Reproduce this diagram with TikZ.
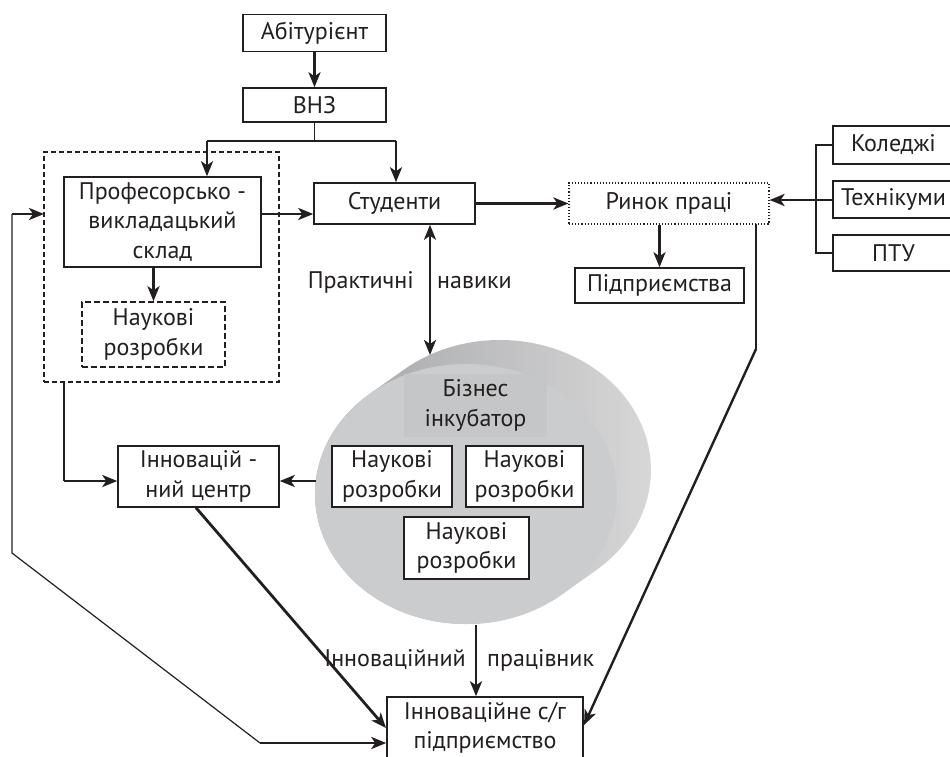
\documentclass[tikz,border=0pt]{standalone}
\usepackage{fontspec}
\setmainfont{PT Sans}
\usetikzlibrary{arrows.meta}
\definecolor{ink}{HTML}{231F20}
\definecolor{face}{HTML}{CBCCCD}
\definecolor{labelbg}{HTML}{C5C6C7}
\definecolor{sidedark}{HTML}{A0A1A3}
\definecolor{sidelight}{HTML}{DADADB}
\begin{document}
\begin{tikzpicture}[x=1pt,y=-1pt,
  font=\fontsize{24}{29.5}\selectfont,
  tip/.style={-{Stealth[length=15pt,width=12pt,inset=4pt]}},
  box/.style={draw=ink, line width=1.5pt, fill=white, inner sep=0pt, align=center, text=ink},
  plainbox/.style={inner sep=0pt, align=center, text=ink},
  arr/.style={draw=ink, line width=2.8pt, tip},
  dblarr/.style={draw=ink, line width=2.8pt, {Stealth[length=15pt,width=12pt,inset=4pt]}-{Stealth[length=15pt,width=12pt,inset=4pt]}},
  thinl/.style={draw=ink, line width=1.2pt},
  lbl/.style={inner sep=0pt, text=ink}]
\clip (0,0) rectangle (950,757);
\fill[white] (0,0) rectangle (950,757);

% incubator body
\shade[left color=sidedark, right color=sidelight]
  (404.3,369.4) arc[start angle=129.3, end angle=-50.7, x radius=151pt, y radius=130pt]
  -- (561.7,594.6) arc[start angle=-50.7, end angle=-230.7, x radius=151pt, y radius=130pt] -- cycle;
\fill[face] (466,494) ellipse[x radius=151pt, y radius=130pt];
\node[plainbox, fill=labelbg, minimum width=143pt, minimum height=63pt] (biz) at (475.5,405.5) {Бізнес\\інкубатор};
\node[box, minimum width=120pt, minimum height=61pt] (nrA) at (392,476.5) {Наукові\\розробки};
\node[box, minimum width=117pt, minimum height=61pt] (nrB) at (524.5,476.5) {Наукові\\розробки};
\node[box, minimum width=125pt, minimum height=62pt] (nrC) at (466.5,548) {Наукові\\розробки};
\coordinate (incL) at (316,481);
\coordinate (incT) at (430,355);
\coordinate (incB) at (476,625);

% boxes
\node[box, minimum width=143pt, minimum height=37pt] (abit) at (314.5,33) {Абітурієнт};
\node[box, minimum width=143pt, minimum height=34pt] (vnz) at (314.5,105) {ВНЗ};
\node[draw=ink, line width=1.1pt, dash pattern=on 5pt off 3pt, inner sep=0pt, minimum width=235pt, minimum height=230pt] (pvs) at (161.5,267) {};
\node[box, minimum width=197pt, minimum height=90pt] (prof) at (162.5,222) {Професорсько -\\викладацький\\склад};
\node[box, dash pattern=on 6pt off 3pt, minimum width=143pt, minimum height=65pt] (nr1) at (153.5,334.5) {Наукові\\розробки};
\node[box, minimum width=161pt, minimum height=41pt] (stud) at (394.5,203.5) {Студенти};
\node[box, line width=1.1pt, dotted, minimum width=200pt, minimum height=41pt] (rynok) at (669,203.5) {Ринок праці};
\node[box, minimum width=169pt, minimum height=35pt] (pidpr) at (659.5,285.5) {Підприємства};
\node[box, minimum width=121pt, minimum height=38pt] (koled) at (893.5,145) {Коледжі};
\node[box, minimum width=121pt, minimum height=37pt] (tekh) at (893.5,199.5) {Технікуми};
\node[box, minimum width=121pt, minimum height=36pt] (ptu) at (893.5,253) {ПТУ};
\node[box, minimum width=161pt, minimum height=61pt] (centr) at (198.5,476.5) {Інновацій -\\ний центр};
\node[box, minimum width=196pt, minimum height=62pt] (innov) at (485,728) {Інноваційне с/г\\підприємство};

% helper coordinates
\coordinate (vnzJ) at (314.5,141);
\coordinate (jL) at (207,141);
\coordinate (jR) at (396,141);
\coordinate (profIn) at (44,214);
\coordinate (loopA) at (12,214);
\coordinate (loopB) at (12,553);
\coordinate (loopC) at (260,743);
\coordinate (pvsOut) at (64,382);
\coordinate (pvsTurn) at (64,481);
\coordinate (rynOut) at (756,224);
\coordinate (rynTurn) at (756,349);
\coordinate (brkT) at (816,145);
\coordinate (brkB) at (816,253);
\coordinate (brkM) at (816,200);

% connectors
\draw[arr] (abit) -- (vnz);
\draw[thinl] (vnz.south) -- (vnzJ);
\draw[line width=2.2pt, draw=ink] (jL) -- (jR);
\draw[arr] (jL) -- (jL |- prof.north);
\draw[arr] (jR) -- (jR |- stud.north);
\draw[arr] (prof.east |- profIn) -- (stud.west |- profIn);
\draw[arr] (prof.south -| nr1.north) -- (nr1.north);
\draw[arr] (stud.east |- rynok.west) -- (rynok.west);
\draw[arr] (rynok.south -| pidpr.north) -- (pidpr.north);
\draw[dblarr] (stud.south -| incT) -- (incT);
\node[lbl, anchor=east] (lp1) at (414,282) {Практичні};
\node[lbl, anchor=west] (lp2) at (437,282) {навики};

% bracket of colleges
\draw[thinl] (koled.west |- brkT) -- (brkT) -- (brkB) -- (ptu.west |- brkB);
\draw[arr] (tekh.west |- brkM) -- (rynok.east |- brkM);

% left loop
\draw[thinl] (loopA) -- (loopB) -- (loopC);
\draw[arr] (loopA) -- (profIn);
\draw[arr] (loopC) -- (innov.west |- loopC);

% from dashed group to innovation centre
\draw[thinl] (pvsOut) -- (pvsTurn);
\draw[arr] (pvsTurn) -- (centr.west |- pvsTurn);
\draw[arr] (incL) -- (centr.east |- incL);

% to the enterprise
\draw[arr] (centr.south -| 196,0) -- (386,728);
\draw[arr] (incB) -- (innov.north -| incB);
\draw[thinl] (rynOut) -- (rynTurn);
\draw[arr, line width=2.4pt] (rynTurn) -- (584,725);
\node[lbl, anchor=east] (li1) at (466,660) {Інноваційний};
\node[lbl, anchor=west] (li2) at (487,660) {працівник};
\end{tikzpicture}
\end{document}
